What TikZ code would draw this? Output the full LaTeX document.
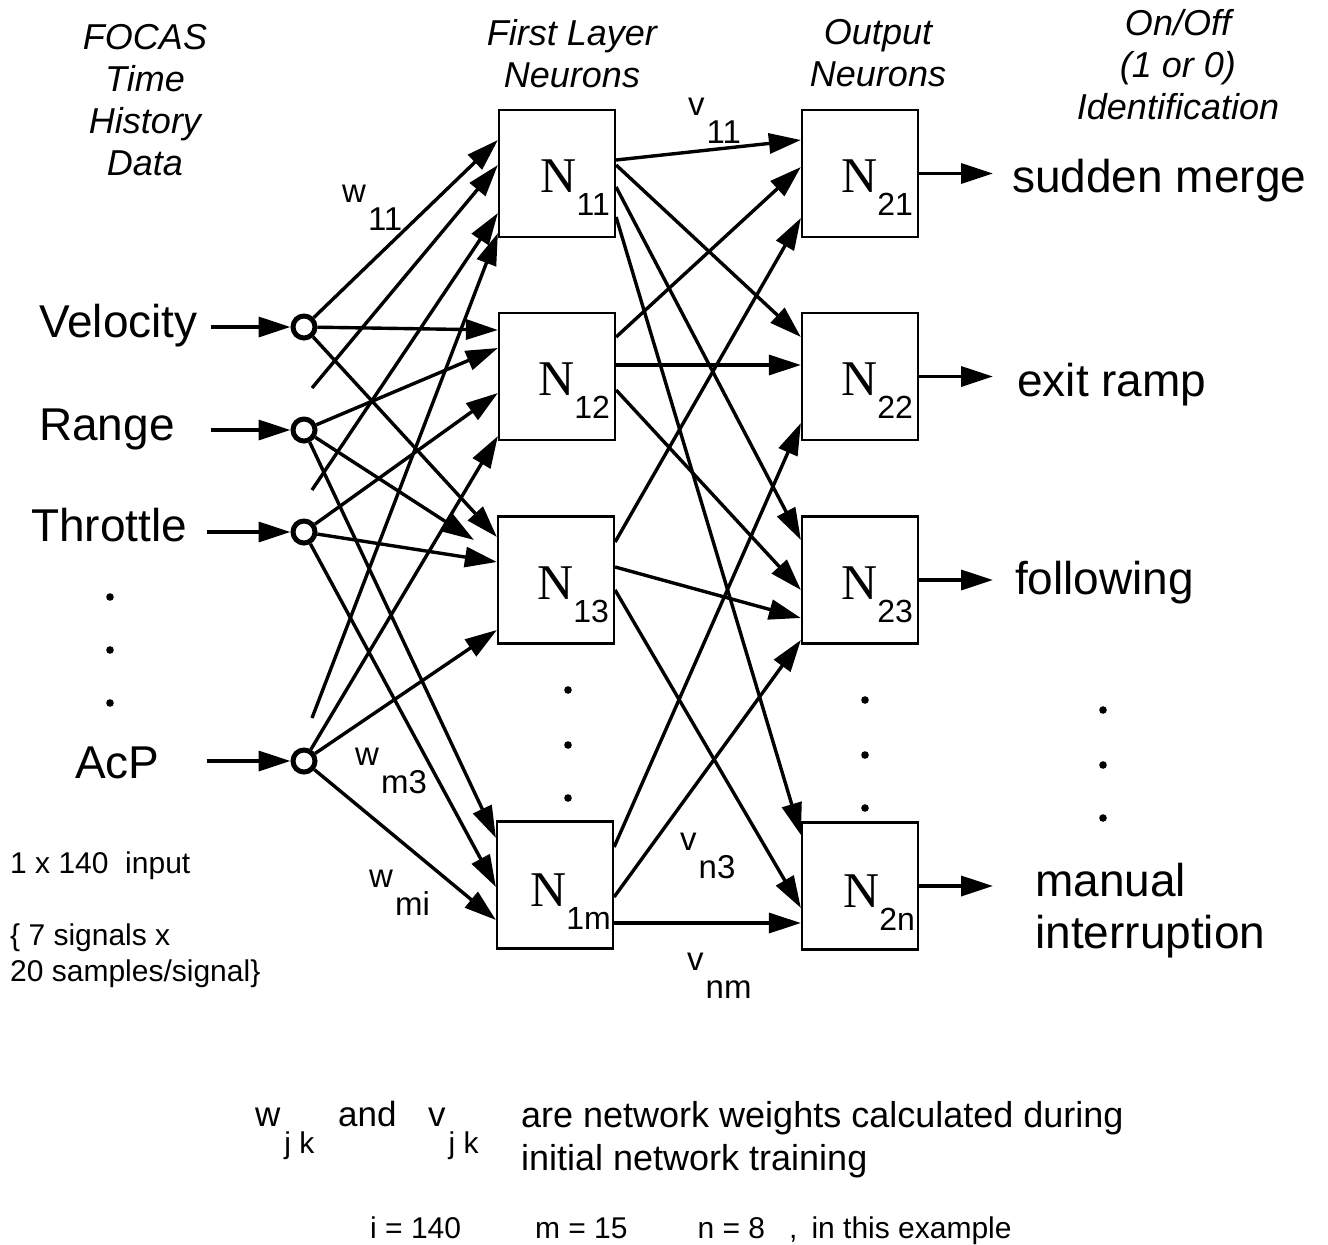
\documentclass[tikz,border=0pt]{standalone}
\usepackage{fontspec}
\setmainfont{Liberation Sans}
\newfontfamily\serifN{Liberation Serif}
\usetikzlibrary{arrows.meta, calc}

\newcommand{\neulab}[1]{{\serifN\fontsize{50}{50}\selectfont N}\raisebox{-23pt}{\fontsize{32}{32}\selectfont #1}}
\newcommand{\wlab}[2]{#1\hspace{2pt}\raisebox{-28pt}{#2}}

\begin{document}
\begin{tikzpicture}[
    x=1pt, y=-1pt,
    >={Triangle[length=32pt,width=20pt]},
    base/.style={inner sep=0pt},
    neuron/.style={base, draw, rectangle, line width=2.2pt, minimum width=116pt, minimum height=127pt},
    inp/.style={base, draw, circle, line width=5pt, minimum size=22pt},
    nlab/.style={base, anchor=base east},
    head/.style={base, align=center, anchor=north, font=\fontsize{36}{42}\itshape\selectfont},
    sig/.style={base, anchor=base west, font=\fontsize{46}{46}\selectfont},
    outl/.style={base, anchor=base west, font=\fontsize{46}{52}\selectfont},
    wt/.style={base, anchor=base west, font=\fontsize{33}{33}\selectfont},
    note/.style={base, anchor=base west, font=\fontsize{30}{36}\selectfont},
    foot/.style={base, anchor=base west, font=\fontsize{35}{43}\selectfont},
    arrow/.style={->, line width=3.4pt}
  ]
    \useasboundingbox (0,0) rectangle (1328,1245);
    \node[head] (hin) at (145,24) {FOCAS\\Time\\History\\Data};
    \node[head] (hfirst) at (572,19) {First Layer\\Neurons};
    \node[head] (hout) at (878,19) {Output\\Neurons};
    \node[head] (hid) at (1178,9) {On/Off\\(1 or 0)\\Identification};
    \node[sig] (lvel) at (39,337) {Velocity};
    \node[sig] (lran) at (39,440) {Range};
    \node[sig] (lthr) at (31,541) {Throttle};
    \node[sig] (lacp) at (75,778) {AcP};
    \node[inp] (i1) at (304,327) {};
    \node[inp] (i2) at (304,430) {};
    \node[inp] (i3) at (304,532) {};
    \node[inp] (i4) at (304,761) {};
    \coordinate (f1) at (312,388);
    \coordinate (f2) at (312,490);
    \coordinate (f3) at (312,718);
    \coordinate (s13) at (474,540);
    \node[neuron] (n11) at (557,173.5) {};
    \node[neuron] (n12) at (557,376.5) {};
    \node[neuron] (n13) at (556,580) {};
    \node[neuron] (n1m) at (555,885) {};
    \node[neuron] (n21) at (860,173.5) {};
    \node[neuron] (n22) at (860,376.5) {};
    \node[neuron] (n23) at (860,580) {};
    \node[neuron] (n2n) at (860,886) {};
    \node[nlab] at ($(n11.north east)+(-6,84)$) {\neulab{11}};
    \node[nlab] at ($(n12.north east)+(-6,84)$) {\neulab{12}};
    \node[nlab] at ($(n13.north east)+(-6,84)$) {\neulab{13}};
    \node[nlab] at ($(n1m.north east)+(-3,86)$) {\neulab{1m}};
    \node[nlab] at ($(n21.north east)+(-6,84)$) {\neulab{21}};
    \node[nlab] at ($(n22.north east)+(-6,84)$) {\neulab{22}};
    \node[nlab] at ($(n23.north east)+(-6,84)$) {\neulab{23}};
    \node[nlab] at ($(n2n.north east)+(-4,86)$) {\neulab{2n}};
    \node[outl] (o1) at (1012,192) {sudden merge};
    \node[outl] (o2) at (1017,396) {exit ramp};
    \node[outl] (o3) at (1015,594) {following};
    \node[outl, align=left, anchor=north west] (o4) at (1035,863) {manual\\interruption};
    \node[wt] (w11) at (342,202) {\wlab{w}{11}};
    \node[wt] (v11) at (688,115) {\wlab{v}{11}};
    \node[wt] (wm3) at (355,765) {\wlab{w}{m3}};
    \node[wt] (wmi) at (369,887) {\wlab{w}{mi}};
    \node[wt] (vn3) at (680,850) {\wlab{v}{n3}};
    \node[wt] (vnm) at (687,970) {\wlab{v}{nm}};
    \node[note] (nin) at (10,873) {1 x 140~ input};
    \node[note, align=left, anchor=north west] (nsig) at (10,924) {\{ 7 signals x\\20 samples/signal\}};
    \node[foot] (fw) at (255,1126) {w\hspace{4pt}\raisebox{-27pt}{\fontsize{30}{30}\selectfont j k}};
    \node[foot] (fand) at (338,1126) {and};
    \node[foot] (fv) at (428,1126) {v\hspace{3pt}\raisebox{-27pt}{\fontsize{30}{30}\selectfont j k}};
    \node[foot, align=left, anchor=north west, font=\fontsize{36}{43}\selectfont] (ftxt) at (521,1101)
    {are network weights calculated during\\initial network training};
    \node[note] (fval) at (370,1238)
    {i = 140\hspace{74pt}m = 15\hspace{70pt}n = 8\hspace{24pt},\hspace{14pt}in this example};
    \fill (110,597) circle (3.8pt) (110,650) circle (3.8pt) (110,703) circle (3.8pt)
          (568,690) circle (3.8pt) (568,745) circle (3.8pt) (568,798) circle (3.8pt)
          (865,700) circle (3.8pt) (865,755) circle (3.8pt) (865,808) circle (3.8pt)
          (1103,710) circle (3.8pt) (1103,765) circle (3.8pt) (1103,818) circle (3.8pt);
    \draw[arrow] ([xshift=-80pt]i1.west) -- (i1);
    \draw[arrow] ([xshift=-80pt]i2.west) -- (i2);
    \draw[arrow] ([xshift=-84pt]i3.west) -- (i3);
    \draw[arrow] ([xshift=-84pt]i4.west) -- (i4);
    \draw[arrow] (i1) -- (n11.west |- 0,140);
    \draw[arrow] (f1) -- (n11.west |- 0,165);
    \draw[arrow] (f2) -- (n11.west |- 0,213);
    \draw[arrow] (f3) -- (n11.west |- 0,233);
    \draw[arrow] (i1) -- (n12.west |- 0,330);
    \draw[arrow] (i2) -- (n12.west |- 0,348);
    \draw[arrow] (i3) -- (n12.west |- 0,393);
    \draw[arrow] (i4) -- (n12.west |- 0,436);
    \draw[arrow] (i1) -- (n13.west |- 0,537);
    \draw[arrow] (i2) -- (s13);
    \draw[arrow] (i3) -- (n13.west |- 0,562);
    \draw[arrow] (i4) -- (n13.west |- 0,630);
    \draw[arrow] (i2) -- (n1m.west |- 0,838);
    \draw[arrow] (i3) -- (n1m.west |- 0,887);
    \draw[arrow] (i4) -- (n1m.west |- 0,920);
    \draw[arrow] (n11.east |- 0,160) -- (n21.west |- 0,140);
    \draw[arrow] (n11.east |- 0,165) -- (n22.west |- 0,337);
    \draw[arrow] (n11.east |- 0,187) -- (n23.west |- 0,540);
    \draw[arrow] (n11.east |- 0,217) -- (n2n.west |- 0,835);
    \draw[arrow] (n12.east |- 0,337) -- (n21.west |- 0,167);
    \draw[arrow] (n12.east |- 0,365) -- (n22.west |- 0,365);
    \draw[arrow] (n12.east |- 0,390) -- (n23.west |- 0,590);
    \draw[arrow] (n13.east |- 0,542) -- (n21.west |- 0,218);
    \draw[arrow] (n13.east |- 0,567) -- (n23.west |- 0,618);
    \draw[arrow] (n13.east |- 0,590) -- (n2n.west |- 0,908);
    \draw[arrow] (n1m.east |- 0,847) -- (n22.west |- 0,423);
    \draw[arrow] (n1m.east |- 0,897) -- (n23.west |- 0,640);
    \draw[arrow] (n1m.east |- 0,923) -- (n2n.west |- 0,923);
    \draw[arrow, shorten >=19pt] (n21.east) -- (n21.east -| o1.west);
    \draw[arrow, shorten >=19pt] (n22.east) -- (n22.east -| o1.west);
    \draw[arrow, shorten >=19pt] (n23.east) -- (n23.east -| o1.west);
    \draw[arrow, shorten >=19pt] (n2n.east) -- (n2n.east -| o1.west);
  \end{tikzpicture}
\end{document}
